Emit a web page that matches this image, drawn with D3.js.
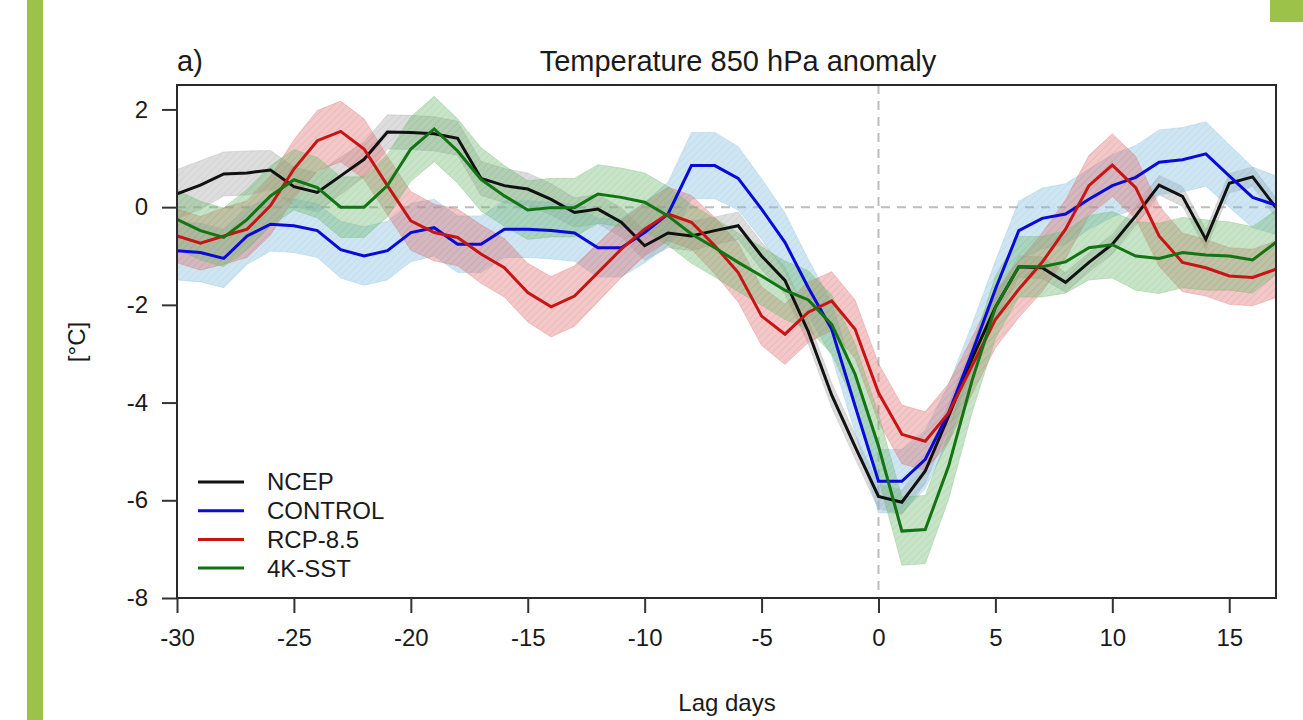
<!DOCTYPE html>
<html>
<head>
<meta charset="utf-8">
<script src="https://cdn.jsdelivr.net/npm/d3@7"></script>
<style>
  body { margin: 0; background: #fff; }
  svg { display: block; font-family: "Liberation Sans", Arial, sans-serif; }
</style>
</head>
<body>
<svg id="chart" width="1303" height="720"></svg>
<script>
// lag days -30 .. 17
var days = d3.range(-30, 18);

var ncep = [0.27,0.45,0.68,0.70,0.76,0.42,0.30,0.64,0.98,1.54,
            1.53,1.50,1.41,0.59,0.44,0.37,0.16,-0.11,-0.04,-0.31,
            -0.79,-0.53,-0.59,-0.48,-0.38,-1.00,-1.50,-2.55,-3.85,-4.90,
            -5.92,-6.04,-5.40,-4.28,-3.10,-2.05,-1.22,-1.24,-1.54,-1.13,
            -0.76,-0.18,0.45,0.22,-0.66,0.49,0.62,-0.01];
var control = [-0.89,-0.93,-1.05,-0.59,-0.35,-0.38,-0.48,-0.87,-1.00,-0.89,
               -0.52,-0.42,-0.76,-0.76,-0.45,-0.45,-0.48,-0.53,-0.83,-0.83,
               -0.52,-0.14,0.85,0.85,0.59,-0.04,-0.72,-1.65,-2.50,-4.07,
               -5.61,-5.61,-5.16,-4.21,-2.98,-1.68,-0.48,-0.23,-0.14,0.16,
               0.44,0.61,0.92,0.97,1.09,0.64,0.20,0.04];
var rcp85 = [-0.59,-0.74,-0.59,-0.45,0.03,0.78,1.36,1.55,1.19,0.44,
             -0.28,-0.52,-0.62,-0.96,-1.24,-1.75,-2.04,-1.82,-1.34,-0.86,
             -0.45,-0.14,-0.31,-0.79,-1.34,-2.23,-2.60,-2.15,-1.92,-2.50,
             -3.80,-4.65,-4.79,-4.21,-3.25,-2.30,-1.68,-1.13,-0.45,0.44,
             0.86,0.40,-0.59,-1.13,-1.24,-1.41,-1.44,-1.27];
var sst4k = [-0.25,-0.48,-0.62,-0.25,0.23,0.56,0.40,0.00,0.00,0.44,
             1.19,1.60,1.15,0.57,0.23,-0.06,-0.01,-0.01,0.27,0.20,
             0.10,-0.18,-0.55,-0.83,-1.13,-1.41,-1.70,-1.90,-2.40,-3.42,
             -4.89,-6.63,-6.60,-5.30,-3.55,-2.05,-1.22,-1.22,-1.12,-0.83,
             -0.77,-1.00,-1.05,-0.93,-0.98,-1.00,-1.08,-0.72];

// half width of the shaded bands
var ncepSpread = [0.50,0.50,0.45,0.45,0.40,0.40,0.40,0.38,0.36,0.35,
                  0.35,0.35,0.35,0.35,0.35,0.33,0.32,0.30,0.30,0.30,
                  0.30,0.30,0.30,0.28,0.28,0.28,0.28,0.25,0.25,0.25,
                  0.25,0.25,0.25,0.25,0.25,0.25,0.22,0.22,0.20,0.20,
                  0.20,0.20,0.20,0.20,0.20,0.20,0.20,0.20];
var controlSpread = [0.60,0.60,0.60,0.58,0.55,0.55,0.55,0.58,0.60,0.60,
                     0.60,0.58,0.58,0.58,0.58,0.58,0.58,0.58,0.60,0.60,
                     0.62,0.65,0.68,0.68,0.65,0.62,0.60,0.58,0.55,0.55,
                     0.65,0.65,0.60,0.58,0.58,0.58,0.60,0.62,0.62,0.62,
                     0.64,0.65,0.66,0.66,0.66,0.64,0.62,0.60];
var rcpSpread = [0.55,0.55,0.58,0.58,0.60,0.60,0.62,0.62,0.62,0.60,
                 0.60,0.58,0.58,0.60,0.60,0.60,0.62,0.62,0.60,0.58,
                 0.55,0.55,0.55,0.58,0.60,0.60,0.62,0.62,0.60,0.60,
                 0.60,0.60,0.60,0.60,0.58,0.58,0.58,0.60,0.60,0.62,
                 0.64,0.64,0.62,0.60,0.58,0.58,0.58,0.58];
var sstSpread = [0.60,0.60,0.60,0.62,0.62,0.62,0.62,0.62,0.62,0.64,
                 0.66,0.67,0.66,0.65,0.62,0.60,0.60,0.60,0.60,0.60,
                 0.60,0.60,0.60,0.60,0.60,0.60,0.60,0.60,0.60,0.62,
                 0.66,0.70,0.70,0.68,0.66,0.64,0.62,0.62,0.64,0.66,
                 0.68,0.70,0.72,0.72,0.72,0.70,0.68,0.66];

var seriesNames = ["NCEP", "CONTROL", "RCP-8.5", "4K-SST"];
var xTicks = [-30, -25, -20, -15, -10, -5, 0, 5, 10, 15];
var yTicks = [-8, -6, -4, -2, 0, 2];

var series = [
  {name: seriesNames[0], values: ncep, spread: ncepSpread, line: "#111111", band: "rgb(165,165,165)"},
  {name: seriesNames[1], values: control, spread: controlSpread, line: "#0a0ad8", band: "rgb(130,188,220)"},
  {name: seriesNames[2], values: rcp85, spread: rcpSpread, line: "#c81414", band: "rgb(222,110,110)"},
  {name: seriesNames[3], values: sst4k, spread: sstSpread, line: "#127412", band: "rgb(110,185,110)"}
];

var svg = d3.select("#chart");

// page decorations
svg.append("rect").attr("x", 27).attr("y", 0).attr("width", 16).attr("height", 720).attr("fill", "#9dc24a");
svg.append("rect").attr("x", 1270).attr("y", 0).attr("width", 33).attr("height", 22).attr("fill", "#9dc24a");

var plotLeft = 177, plotRight = 1276, plotTop = 85, plotBottom = 598;

var x = d3.scaleLinear().domain([-30, 17]).range([plotLeft, plotRight]);
var y = d3.scaleLinear().domain([-8, 2.5]).range([plotBottom, plotTop]);

var defs = svg.append("defs");
defs.append("clipPath").attr("id", "clip")
  .append("rect").attr("x", plotLeft).attr("y", plotTop)
  .attr("width", plotRight - plotLeft).attr("height", plotBottom - plotTop);

series.forEach(function(s, k) {
  var p = defs.append("pattern").attr("id", "hatch" + k)
    .attr("patternUnits", "userSpaceOnUse").attr("width", 5).attr("height", 5)
    .attr("patternTransform", "rotate(45)");
  p.append("line").attr("x1", 0).attr("y1", 0).attr("x2", 0).attr("y2", 5)
    .attr("stroke", s.band).attr("stroke-width", 1).attr("stroke-opacity", 0.35);
});

var plot = svg.append("g").attr("clip-path", "url(#clip)");

// reference lines
plot.append("line").attr("x1", plotLeft).attr("x2", plotRight).attr("y1", y(0)).attr("y2", y(0))
  .attr("stroke", "#bdbdbd").attr("stroke-width", 2).attr("stroke-dasharray", "9,7");
plot.append("line").attr("x1", x(0)).attr("x2", x(0)).attr("y1", plotTop).attr("y2", plotBottom)
  .attr("stroke", "#bdbdbd").attr("stroke-width", 2).attr("stroke-dasharray", "9,7");

var area = d3.area()
  .x(function(d) { return x(d.day); })
  .y0(function(d) { return y(d.v - d.s); })
  .y1(function(d) { return y(d.v + d.s); });

var line = d3.line()
  .x(function(d) { return x(d.day); })
  .y(function(d) { return y(d.v); });

series.forEach(function(s) {
  s.points = days.map(function(d, i) { return {day: d, v: s.values[i], s: s.spread[i]}; });
});

series.forEach(function(s, k) {
  plot.append("path").datum(s.points).attr("d", area)
    .attr("fill", s.band).attr("fill-opacity", 0.38)
    .attr("stroke", s.band).attr("stroke-opacity", 0.3).attr("stroke-width", 1);
  plot.append("path").datum(s.points).attr("d", area)
    .attr("fill", "url(#hatch" + k + ")");
});

series.forEach(function(s) {
  plot.append("path").datum(s.points).attr("d", line)
    .attr("fill", "none").attr("stroke", s.line).attr("stroke-width", 3)
    .attr("stroke-linejoin", "miter");
});

// frame
svg.append("rect").attr("x", plotLeft).attr("y", plotTop)
  .attr("width", plotRight - plotLeft).attr("height", plotBottom - plotTop)
  .attr("fill", "none").attr("stroke", "#2a2a2a").attr("stroke-width", 2);

// axes
var xAxis = svg.append("g").attr("transform", "translate(0," + plotBottom + ")")
  .call(d3.axisBottom(x).tickValues(xTicks).tickSize(15).tickPadding(16).tickFormat(d3.format("d")));
var yAxis = svg.append("g").attr("transform", "translate(" + plotLeft + ",0)")
  .call(d3.axisLeft(y).tickValues(yTicks).tickSize(15).tickPadding(14).tickFormat(d3.format("d")));

[xAxis, yAxis].forEach(function(a) {
  a.select(".domain").remove();
  a.selectAll(".tick line").attr("stroke", "#333").attr("stroke-width", 2);
  a.selectAll(".tick text").attr("fill", "#1a1a1a").style("font-size", "24px")
    .style("font-family", "'Liberation Sans', Arial, sans-serif")
    .text(function(d) { return d < 0 ? "-" + Math.abs(d) : d; });
});

// titles
svg.append("text").attr("x", 738).attr("y", 71).attr("text-anchor", "middle")
  .style("font-size", "29px").attr("fill", "#1a1a1a").text("Temperature 850 hPa anomaly");
svg.append("text").attr("x", 177).attr("y", 71)
  .style("font-size", "29px").attr("fill", "#1a1a1a").text("a)");
svg.append("text").attr("x", 727).attr("y", 711).attr("text-anchor", "middle")
  .style("font-size", "24px").attr("fill", "#1a1a1a").text("Lag days");
svg.append("text").attr("transform", "translate(85,342) rotate(-90)").attr("text-anchor", "middle")
  .style("font-size", "24px").attr("fill", "#1a1a1a").text("[\u00b0C]");

// legend
var legend = svg.append("g").attr("transform", "translate(198,482)");
series.forEach(function(s, i) {
  var row = legend.append("g").attr("transform", "translate(0," + (i * 28.7) + ")");
  row.append("line").attr("x1", 0).attr("x2", 46).attr("y1", 0).attr("y2", 0)
    .attr("stroke", s.line).attr("stroke-width", 3);
  row.append("text").attr("x", 69).attr("y", 0).attr("dy", "0.35em")
    .style("font-size", "24px").attr("fill", "#1a1a1a").text(s.name);
});
</script>
</body>
</html>
